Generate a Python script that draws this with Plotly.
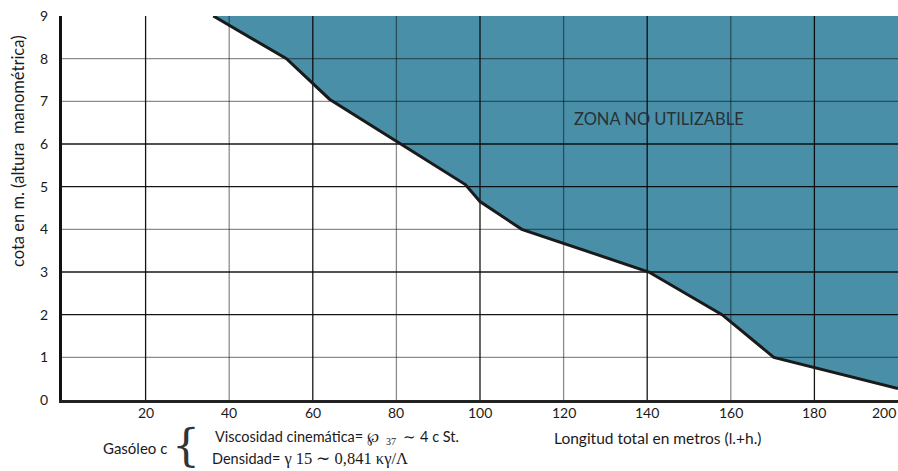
import plotly.graph_objects as go

# --- data ---
boundary_x = [36.2, 53.7, 64.0, 96.5, 100.0, 110.0, 140.4, 157.9, 170.3, 200.0]
boundary_y = [9.0, 8.0, 7.05, 5.05, 4.65, 4.0, 3.0, 2.0, 1.0, 0.27]

x_ticks = [20, 40, 60, 80, 100, 120, 140, 160, 180, 200]
y_ticks = [0, 1, 2, 3, 4, 5, 6, 7, 8, 9]

grid_x = [20, 40, 60, 80, 100, 120, 140, 160, 180]
grid_x_dark = [True, False, True, False, True, False, True, False, True]
grid_y = [1, 2, 3, 4, 5, 6, 7, 8]
grid_y_dark = [False, True, True, False, True, True, False, False]

x_min, x_max = 0, 200
y_min, y_max = 0, 9

BLUE = "#4a8fa8"
DARK = "rgba(10,10,10,0.95)"
GRAY = "rgba(0,0,0,0.45)"

W, H = 898, 471
L, R, T, B = 62, 0, 16, 71

fig = go.Figure()

fx = boundary_x + [x_max, boundary_x[0]]
fy = boundary_y + [y_max, y_max]
fig.add_trace(go.Scatter(x=fx, y=fy, mode="lines", fill="toself",
                         fillcolor=BLUE, line=dict(width=0, color=BLUE),
                         hoverinfo="skip", showlegend=False))

for gx, dark in zip(grid_x, grid_x_dark):
    fig.add_trace(go.Scatter(x=[gx, gx], y=[y_min, y_max], mode="lines",
                             line=dict(color=DARK if dark else GRAY, width=1.3),
                             hoverinfo="skip", showlegend=False))
for gy, dark in zip(grid_y, grid_y_dark):
    fig.add_trace(go.Scatter(x=[x_min, x_max], y=[gy, gy], mode="lines",
                             line=dict(color=DARK if dark else GRAY, width=1.3),
                             hoverinfo="skip", showlegend=False))

fig.add_trace(go.Scatter(x=boundary_x, y=boundary_y, mode="lines",
                         line=dict(color="#1a1a1a", width=3),
                         hoverinfo="skip", showlegend=False))

FONT = "Lato"
TXT = "#1a1a1a"

fig.update_layout(
    width=W, height=H,
    margin=dict(l=L, r=R, t=T, b=B),
    paper_bgcolor="white", plot_bgcolor="white",
    font=dict(family=FONT, size=14, color=TXT),
    showlegend=False,
    xaxis=dict(range=[x_min, x_max], showgrid=False, zeroline=False,
               showticklabels=False, showline=True, linecolor="#222",
               linewidth=3, fixedrange=True, automargin=False),
    yaxis=dict(range=[y_min, y_max], showgrid=False, zeroline=False,
               tickvals=y_ticks, ticktext=[str(v) for v in y_ticks],
               showline=True, linecolor="#111", linewidth=3,
               ticklabelstandoff=8, tickfont=dict(family=FONT, size=14, color=TXT),
               fixedrange=True, automargin=False),
)

for v in x_ticks:
    last = (v == x_max)
    fig.add_annotation(x=v, y=0, xref="x", yref="y", text=str(v),
                       showarrow=False, yshift=-12,
                       xanchor="right" if last else "center", yanchor="middle",
                       font=dict(family=FONT, size=14, color=TXT))

fig.add_annotation(x=142.8, y=6.58, xref="x", yref="y", text="ZONA NO UTILIZABLE",
                   showarrow=False, xanchor="center", yanchor="middle",
                   font=dict(family=FONT, size=16.5, color="#263238"))


def px(xp):
    return (xp - L) / (W - L - R)


def py(yp):
    return (H - B - yp) / (H - T - B)


serif = "font-family:'Liberation Serif',serif"
extra = [
    dict(x=px(18), y=py(151), text="cota en m. (altura  manométrica)", textangle=-90,
         font=dict(family=FONT, size=16.5, color=TXT)),
    dict(x=px(657), y=py(438), text="Longitud total en metros (l.+h.)",
         font=dict(family=FONT, size=15.5, color=TXT)),
    dict(x=px(169), y=py(448), xanchor="right", text="Gasóleo c",
         font=dict(family=FONT, size=15, color=TXT)),
    dict(x=px(186), y=py(445), text="{",
         font=dict(family="DejaVu Serif", size=44, color="#333")),
    dict(x=px(213), y=py(437), xanchor="left",
         text="Viscosidad cinemática=<span style=\"" + serif + "\"> ℘  <sub>37</sub>  ∼ </span>4 c St.",
         font=dict(family=FONT, size=14.5, color=TXT)),
    dict(x=px(210), y=py(458), xanchor="left",
         text="Densidad=<span style=\"" + serif + ";font-size:16.5px\"> γ 15 ∼ 0,841 κγ/Λ</span>",
         font=dict(family=FONT, size=14.5, color=TXT)),
]
for a in extra:
    a.setdefault("xref", "paper")
    a.setdefault("yref", "paper")
    a.setdefault("showarrow", False)
    a.setdefault("xanchor", "center")
    a.setdefault("yanchor", "middle")
    a.setdefault("font", dict(family=FONT, size=15, color=TXT))
    fig.add_annotation(**a)

fig.write_html("out.html",
               config={"displayModeBar": False},
               post_script="document.body.style.margin='0';document.body.style.overflow='hidden';")
